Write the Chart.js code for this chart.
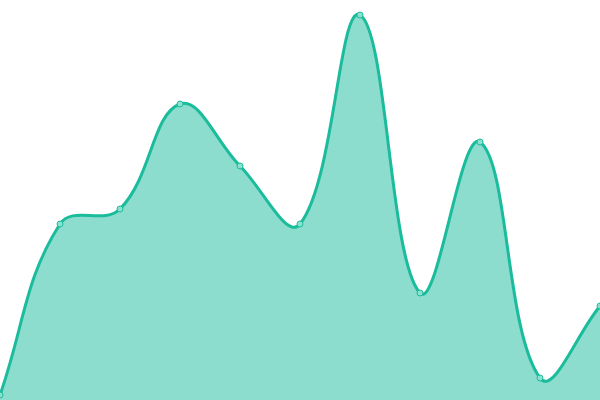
<!DOCTYPE html>
<html><head><meta charset="utf-8">
<script src="https://cdn.jsdelivr.net/npm/chart.js@4"></script>
<style>html,body{margin:0;padding:0;background:#fff}#w{width:600px;height:400px}</style>
</head><body><div id="w"><canvas id="c"></canvas></div>
<script>
const labels = ['1','2','3','4','5','6','7','8','9','10','11'];
const values = [5, 176, 191, 296, 234, 176, 385, 107, 258, 22, 94];
const yMin = 0, yMax = 400;
new Chart(document.getElementById('c'), {
  type: 'line',
  data: { labels: labels, datasets: [{
    data: values,
    fill: true,
    backgroundColor: 'rgba(26,188,156,0.5)',
    borderColor: '#1abc9c',
    borderWidth: 3,
    tension: 0.4,
    pointRadius: 3,
    pointBackgroundColor: '#8ce0cf',
    pointBorderColor: '#1abc9c',
    pointBorderWidth: 1
  }]},
  options: {
    responsive: true, maintainAspectRatio: false, animation: false,
    layout: { padding: 0, autoPadding: false },
    plugins: { legend: { display: false }, tooltip: { enabled: false } },
    scales: {
      x: { display: false, offset: false },
      y: { display: false, min: yMin, max: yMax }
    }
  }
});
</script></body></html>
